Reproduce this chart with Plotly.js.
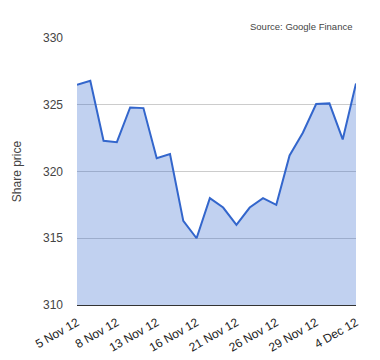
<!DOCTYPE html>
<html>
<head>
<meta charset="utf-8">
<script src="https://cdn.plot.ly/plotly-3.0.1.min.js"></script>
<style>html,body{margin:0;padding:0;background:#fff;}#chart{width:380px;height:360px;}</style>
</head>
<body>
<div id="chart"></div>
<script>
const dates = ["5 Nov 12","6 Nov 12","7 Nov 12","8 Nov 12","9 Nov 12","12 Nov 12","13 Nov 12","14 Nov 12","15 Nov 12","16 Nov 12","19 Nov 12","20 Nov 12","21 Nov 12","22 Nov 12","23 Nov 12","26 Nov 12","27 Nov 12","28 Nov 12","29 Nov 12","30 Nov 12","3 Dec 12","4 Dec 12"];
const prices = [326.5,326.8,322.3,322.2,324.8,324.75,321.0,321.3,316.3,315.0,318.0,317.3,316.0,317.3,318.0,317.5,321.2,322.9,325.05,325.1,322.4,326.6];
const tickLabels = ["5 Nov 12","8 Nov 12","13 Nov 12","16 Nov 12","21 Nov 12","26 Nov 12","29 Nov 12","4 Dec 12"];
const yTicks = [310,315,320,325,330];

const trace = {
  x: dates, y: prices, type: 'scatter', mode: 'lines',
  line: {color: '#3366cc', width: 2},
  fill: 'tozeroy', fillcolor: 'rgba(51,102,204,0.3)',
  hoverinfo: 'none'
};
const layout = {
  width: 380, height: 360,
  margin: {l: 77, r: 24, t: 38, b: 55},
  paper_bgcolor: '#fff', plot_bgcolor: '#fff',
  font: {family: 'Arial, "Liberation Sans", sans-serif', size: 11, color: '#444'},
  showlegend: false,
  xaxis: {
    type: 'category', tickmode: 'array', tickvals: tickLabels, ticktext: tickLabels,
    tickangle: -30, showgrid: false, showline: true, linecolor: '#333', linewidth: 1,
    ticks: '', ticklabelstandoff: 5, tickfont: {size: 12, color: '#222'}, range: [0, dates.length - 1], fixedrange: true
  },
  yaxis: {
    range: [310, 330], tickmode: 'array', tickvals: yTicks, ticktext: yTicks.map(String),
    showgrid: true, gridcolor: '#cccccc', gridwidth: 1, zeroline: false, showline: false,
    ticks: '', ticklabelstandoff: 13, tickfont: {size: 12, color: '#444'},
    title: {text: 'Share price', font: {size: 12, color: '#444'}, standoff: 18}
  },
  annotations: [{
    text: 'Source: Google Finance', xref: 'paper', yref: 'paper', x: 1, y: 1,
    xanchor: 'right', yanchor: 'bottom', yshift: 4, xshift: -2, showarrow: false,
    font: {size: 9.5, color: '#444'}
  }]
};
Plotly.newPlot('chart', [trace], layout, {displayModeBar: false, staticPlot: true});
</script>
</body>
</html>
